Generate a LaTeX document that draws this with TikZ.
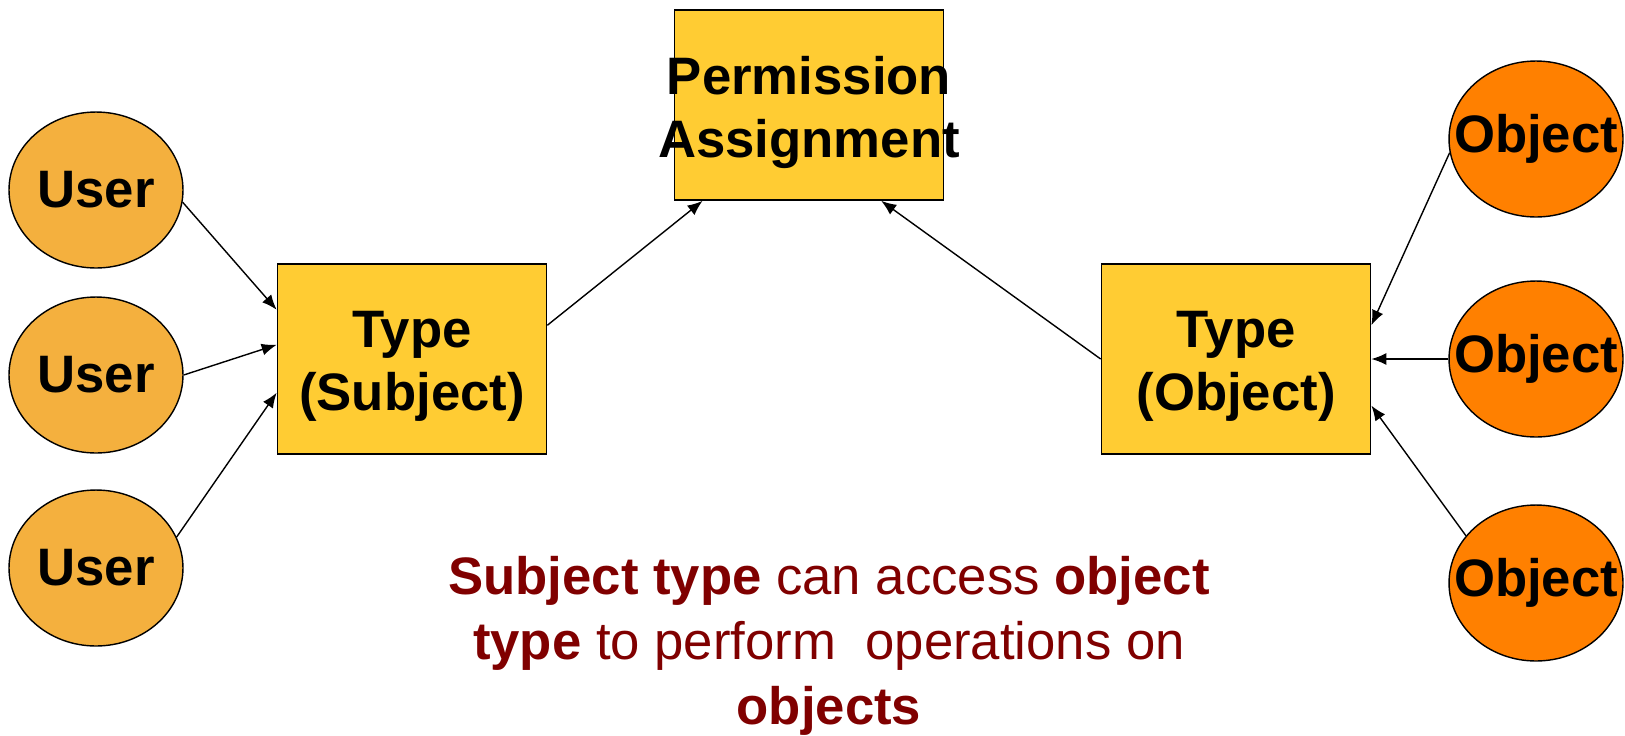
\documentclass[tikz,border=0pt]{standalone}
\usepackage{fontspec}
\setmainfont{Liberation Sans}
\usetikzlibrary{shapes.geometric,arrows.meta}
\definecolor{userorange}{RGB}{244,176,62}
\definecolor{boxyellow}{RGB}{255,204,51}
\definecolor{objorange}{RGB}{255,128,0}
\definecolor{darkred}{RGB}{128,0,0}
\tikzset{
    lbl/.style={font=\fontsize{30}{36}\selectfont\bfseries, align=center, inner sep=0pt},
    lbltwo/.style={lbl, yshift=-0.15cm},
    user/.style={ellipse, draw, line width=0.8pt, fill=userorange, minimum width=3.48cm, minimum height=3.12cm, inner sep=0pt},
    obj/.style={ellipse, draw, line width=0.8pt, fill=objorange, minimum width=3.48cm, minimum height=3.12cm, inner sep=0pt},
    typebox/.style={rectangle, draw, line width=1pt, fill=boxyellow, minimum width=5.38cm, minimum height=3.8cm, inner sep=0pt},
    arr/.style={-{Latex[length=0.3cm,width=0.24cm]}, line width=0.8pt}
}
\begin{document}
\begin{tikzpicture}[x=0.02cm,y=-0.02cm]
        \useasboundingbox (0,0) rectangle (1625,735);
        \node[typebox, label={[lbltwo]center:Permission\\Assignment}] (pa) at (809,105) {};
        \node[typebox, label={[lbltwo]center:Type\\(Subject)}] (ts) at (412,359) {};
        \node[typebox, label={[lbltwo]center:Type\\(Object)}] (to) at (1236,359) {};
        \foreach \i/\y in {1/190,2/375,3/568}
            \node[user, label={[lbl]center:User}] (u\i) at (96,\y) {};
        \foreach \i/\y in {1/139,2/359,3/583}
            \node[obj, label={[lbl]center:Object}] (o\i) at (1536,\y) {};
        % users -> subject type
        \foreach \i/\a/\b in {1/-8/160,2/0/174,3/21/194}
            \draw[arr] (u\i.\a) -- (ts.\b);
        % objects -> object type
        \foreach \i/\a/\b in {1/189/14,2/180/0,3/146/-19}
            \draw[arr] (o\i.\a) -- (to.\b);
        \draw[arr] (ts.14) -- (pa.222);
        \draw[arr] (to.west) -- (pa.-53);
        \node[font=\fontsize{30}{37}\selectfont, text=darkred, align=center] (note) at (829,646)
            {\textbf{Subject type} can access \textbf{object}\\ \textbf{type} to perform\ \ operations on\\ \textbf{objects}};
    \end{tikzpicture}
\end{document}
